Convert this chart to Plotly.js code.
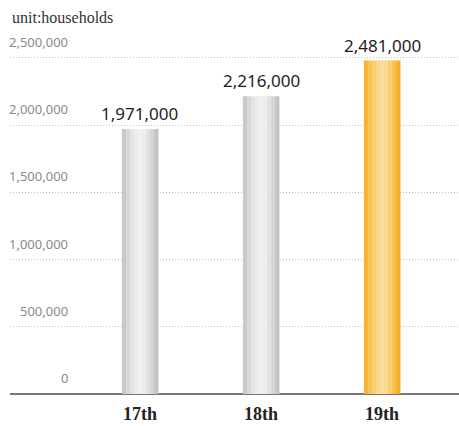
<!DOCTYPE html>
<html>
<head>
<meta charset="utf-8">
<script src="https://cdn.plot.ly/plotly-3.0.1.min.js"></script>
<style>html,body{margin:0;padding:0;background:#fff;}#chart{width:459px;height:426px;}</style>
</head>
<body>
<div id="chart"></div>
<script>
// ---- data ----
const categories = ["17th", "18th", "19th"];
const households = [1971000, 2216000, 2481000];
const valueLabels = ["1,971,000", "2,216,000", "2,481,000"];
const yTickValues = [0, 500000, 1000000, 1500000, 2000000, 2500000];
const yTickLabels = ["0", "500,000", "1,000,000", "1,500,000", "2,000,000", "2,500,000"];
const unitLabel = "unit:households";

// ---- styling (gradient approximated by vertical strips) ----
const grayStrips = ["#c9c9c9","#d8d8d8","#e4e4e4","#ececec","#f1f1f1","#ededed","#e2e2e2","#d4d4d4","#c4c4c4"];
const orangeStrips = ["#f4b632","#f7c557","#f9d075","#fad98c","#fbde9b","#fad98e","#f8cd6e","#f6c04c","#f3b026"];
const highlight = [false, false, true];
const barWidth = 0.3;
const nStrips = grayStrips.length;
const stripW = barWidth / nStrips;

const traces = [];
for (let i = 0; i < nStrips; i++) {
  traces.push({
    type: "bar",
    x: categories,
    y: households,
    width: stripW * 1.08,
    offset: -barWidth / 2 + i * stripW,
    marker: { color: highlight.map(h => h ? orangeStrips[i] : grayStrips[i]), line: { width: 0 } },
    hoverinfo: "skip",
    showlegend: false
  });
}

const annotations = yTickValues.map((v, i) => ({
  xref: "paper", yref: "y",
  x: 0.1336, y: v,
  xanchor: "right", yanchor: "bottom",
  yshift: 5,
  text: yTickLabels[i],
  showarrow: false,
  font: { family: "Noto Sans, sans-serif", size: 13, color: "#8a8a8a" }
}));
categories.forEach((c, i) => {
  annotations.push({
    xref: "x", yref: "y",
    x: c, y: households[i],
    xanchor: "center", yanchor: "bottom",
    yshift: 2,
    text: valueLabels[i],
    showarrow: false,
    font: { family: "Noto Sans, sans-serif", size: 17, color: "#1e1e1e" }
  });
});
annotations.push({
  xref: "paper", yref: "paper",
  x: 0, y: 1, xanchor: "left", yanchor: "bottom",
  yshift: 27,
  text: unitLabel,
  showarrow: false,
  font: { family: "Liberation Serif, serif", size: 16, color: "#333" }
});

const layout = {
  width: 459, height: 426,
  margin: { l: 10, r: 0, t: 55, b: 32 },
  paper_bgcolor: "#fff", plot_bgcolor: "#fff",
  barmode: "overlay",
  showlegend: false,
  xaxis: {
    type: "category",
    range: [-1.074, 2.636],
    showgrid: false, zeroline: false, showline: false,
    ticks: "outside", ticklen: 3, tickcolor: "rgba(0,0,0,0)",
    tickfont: { family: "Liberation Serif, serif", size: 18, color: "#222", weight: "bold" },
    fixedrange: true
  },
  yaxis: {
    range: [0, 2522000],
    tickvals: yTickValues,
    showticklabels: false,
    showgrid: true, gridcolor: "#bdbdbd", griddash: "1px,2px", gridwidth: 1,
    zeroline: true, zerolinecolor: "#777", zerolinewidth: 1.5,
    showline: false,
    fixedrange: true
  },
  annotations: annotations
};

Plotly.newPlot("chart", traces, layout, { displayModeBar: false, staticPlot: true });
</script>
</body>
</html>
